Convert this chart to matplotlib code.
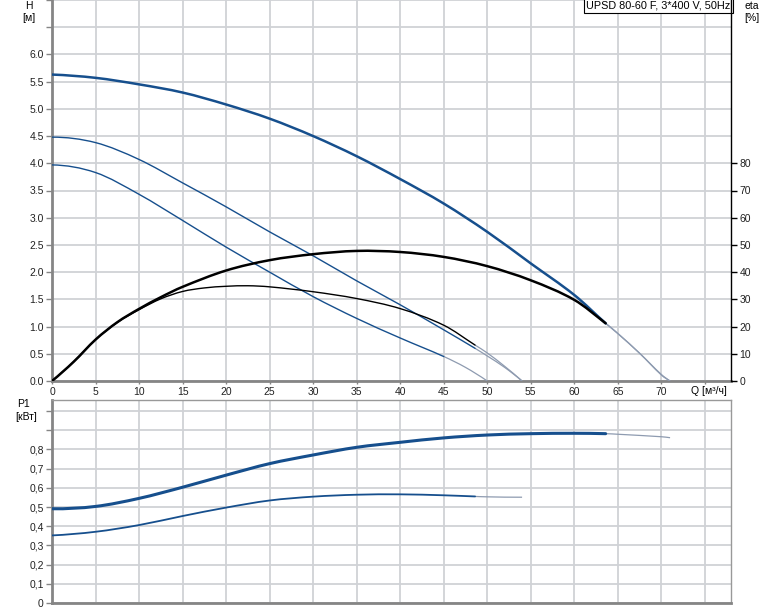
import numpy as np
import matplotlib
matplotlib.use("Agg")
import matplotlib.pyplot as plt
from matplotlib.path import Path
from matplotlib.patches import PathPatch

plt.rcParams['font.family'] = ['Liberation Sans', 'DejaVu Sans']
plt.rcParams['font.size'] = 7.5

# ---- data (Q in m3/h) ----
# head curves [m]
q_h1 = [0, 5, 10, 15, 20, 25, 30, 35, 40, 45, 50, 55, 60, 63.6, 65, 67.5, 70, 71]
h1 = [5.63, 5.57, 5.45, 5.30, 5.08, 4.82, 4.50, 4.13, 3.71, 3.26, 2.74, 2.16, 1.58, 1.06, 0.87, 0.51, 0.12, 0]
q_h2 = [0, 5, 10, 15, 20, 25, 30, 35, 40, 45, 48.6, 50, 52, 54]
h2 = [4.48, 4.38, 4.07, 3.64, 3.20, 2.74, 2.30, 1.84, 1.40, 0.94, 0.60, 0.46, 0.25, 0]
q_h3 = [0, 5, 10, 15, 20, 25, 30, 35, 40, 45, 47.5, 50]
h3 = [3.97, 3.83, 3.43, 2.95, 2.46, 2.00, 1.55, 1.15, 0.79, 0.45, 0.25, 0]

# efficiency curves [%]
q_e1 = [0, 2.5, 5, 7.5, 10, 12.5, 15, 20, 25, 30, 35, 40, 45, 50, 55, 60, 63.6, 65, 67.5, 70, 71]
eta1 = [0, 7.1, 15.2, 21.6, 26.5, 30.8, 34.6, 40.6, 44.4, 46.6, 47.8, 47.4, 45.6, 42.2, 37.0, 29.8, 21.2, 17.5, 10.2, 2.2, 0]
q_e2 = [0, 2.5, 5, 7.5, 10, 12.5, 15, 17.5, 20, 22.5, 25, 30, 35, 40, 45, 48.6, 50, 52, 54]
eta2 = [0, 7.1, 15.2, 21.5, 26.2, 30.2, 32.9, 34.2, 34.8, 35.0, 34.6, 32.8, 30.3, 26.6, 20.5, 13.2, 10.3, 5.4, 0]

# power curves [kW]
q_p1 = [0, 5, 10, 15, 20, 25, 30, 35, 40, 45, 50, 55, 60, 63.6, 65, 70, 71]
p1 = [0.491, 0.503, 0.545, 0.603, 0.666, 0.726, 0.771, 0.811, 0.837, 0.860, 0.875, 0.882, 0.884, 0.882, 0.879, 0.866, 0.861]
q_p2 = [0, 5, 10, 15, 20, 25, 30, 35, 40, 45, 48.6, 50, 54]
p2 = [0.352, 0.371, 0.406, 0.453, 0.497, 0.534, 0.554, 0.564, 0.566, 0.561, 0.555, 0.553, 0.551]

# end of operating range (after it the curve is drawn thin grey)
q_end1 = 63.6
q_end2 = 48.6
q_end3 = 45

title = "UPSD 80-60 F, 3*400 V, 50Hz"

blue = '#164f8d'
grey = '#8e9bb0'
grid_c = '#d0d2d6'
spine_c = '#858585'

W, H = 774, 611
fig = plt.figure(figsize=(W / 100, H / 100), dpi=100)

def fx(px):
    return px / W

def fy(py):
    return 1 - py / H

ax = fig.add_axes([fx(52), fy(381), fx(731) - fx(52), fy(0) - fy(381)])
ax2 = fig.add_axes([fx(52), fy(603), fx(731) - fx(52), fy(399.5) - fy(603)])


def end_slope(q0, q1, q2, v0, v1, v2):
    # three-point one-sided derivative at q0
    h1_, h2_ = q1 - q0, q2 - q0
    return (v1 * h2_ ** 2 - v2 * h1_ ** 2 - v0 * (h2_ ** 2 - h1_ ** 2)) / (h1_ * h2_ * (h2_ - h1_))


def slopes(q, v):
    # tangents used only to draw the line smoothly through the read points
    d = np.zeros_like(v)
    d[1:-1] = (v[2:] - v[:-2]) / (q[2:] - q[:-2])
    d[0] = end_slope(q[0], q[1], q[2], v[0], v[1], v[2])
    d[-1] = end_slope(q[-1], q[-2], q[-3], v[-1], v[-2], v[-3])
    return d


def bezier(q, v, d, i0, i1):
    verts = [(q[i0], v[i0])]
    codes = [Path.MOVETO]
    for i in range(i0, i1):
        h = (q[i + 1] - q[i]) / 3
        verts += [(q[i] + h, v[i] + d[i] * h),
                  (q[i + 1] - h, v[i + 1] - d[i + 1] * h),
                  (q[i + 1], v[i + 1])]
        codes += [Path.CURVE4] * 3
    return Path(verts, codes)


def split_plot(axis, q, v, q_end, color, lw, scale=1.0):
    q = np.asarray(q, float)
    v = np.asarray(v, float) * scale
    d = slopes(q, v)
    i = int(np.searchsorted(q, q_end))
    axis.add_patch(PathPatch(bezier(q, v, d, 0, i), fill=False, ec=color, lw=lw,
                             capstyle='round', zorder=4))
    axis.add_patch(PathPatch(bezier(q, v, d, i, len(q) - 1), fill=False, ec=grey,
                             lw=0.9, zorder=3))


# top chart: head and efficiency (eta drawn on the H scale, 20 % per metre)
split_plot(ax, q_h1, h1, q_end1, blue, 1.8)
split_plot(ax, q_h2, h2, q_end2, blue, 1.0)
split_plot(ax, q_h3, h3, q_end3, blue, 1.0)
split_plot(ax, q_e1, eta1, q_end1, 'black', 1.8, scale=1 / 20)
split_plot(ax, q_e2, eta2, q_end2, 'black', 1.0, scale=1 / 20)

ax.set_xlim(0, 78)
ax.set_ylim(0, 7)
ax.set_xticks(np.arange(0, 76, 5))
ax.set_xticklabels([str(v) for v in range(0, 71, 5)] + [''])
ax.set_yticks(np.arange(0, 7.01, 0.5))
ax.set_yticklabels(['%.1f' % v if v <= 6.0 else '' for v in np.arange(0, 7.01, 0.5)])
ax.grid(True, color=grid_c, lw=1.3)
ax.set_axisbelow(True)
ax.tick_params(axis='both', length=4, width=1, color=spine_c, labelcolor='#222222', pad=2)
ax.tick_params(axis='x', length=2)
ax.spines['top'].set_visible(False)
ax.spines['right'].set_visible(False)
for s in ['left', 'bottom']:
    ax.spines[s].set_color(spine_c)
    ax.spines[s].set_linewidth(2)

axr = ax.twinx()
axr.set_ylim(0, 140)
axr.set_yticks(np.arange(0, 81, 10))
axr.tick_params(axis='y', length=4, width=1, color='black', labelcolor='#222222', pad=2)
for s in ['left', 'top', 'bottom']:
    axr.spines[s].set_visible(False)
axr.spines['right'].set_color('black')
axr.spines['right'].set_linewidth(1)

ax.text(0.9995, 0.999, title, transform=ax.transAxes, ha='right', va='top', zorder=6,
        fontsize=7.8,
        bbox=dict(boxstyle='square,pad=0.25', fc='white', ec='black', lw=0.8))

# bottom chart: power
split_plot(ax2, q_p1, p1, q_end1, blue, 2.2)
split_plot(ax2, q_p2, p2, q_end2, blue, 1.3)
ax2.set_xlim(0, 78)
ax2.set_ylim(0, 1.06)
ax2.set_xticks(np.arange(0, 76, 5))
ax2.set_xticklabels([])
ax2.set_yticks(np.arange(0, 1.01, 0.1))
ax2.set_yticklabels(['0'] + [('%.1f' % v).replace('.', ',') for v in np.arange(0.1, 0.81, 0.1)] + ['', ''])
ax2.grid(True, color=grid_c, lw=1.3)
ax2.set_axisbelow(True)
ax2.tick_params(axis='y', length=4, width=1, color=spine_c, labelcolor='#222222', pad=2)
ax2.tick_params(axis='x', length=0)
for s in ['left', 'bottom']:
    ax2.spines[s].set_color(spine_c)
    ax2.spines[s].set_linewidth(2)
for s in ['top', 'right']:
    ax2.spines[s].set_color('#999999')
    ax2.spines[s].set_linewidth(1)

# axis labels
fig.text(fx(29), fy(6), "H", ha='center', va='center')
fig.text(fx(29), fy(18), "[м]", ha='center', va='center')
fig.text(fx(752), fy(6), "eta", ha='center', va='center')
fig.text(fx(752), fy(18), "[%]", ha='center', va='center')
fig.text(fx(24), fy(404), "P1", ha='center', va='center')
fig.text(fx(26), fy(417), "[кВт]", ha='center', va='center')
fig.text(fx(709), fy(391), "Q [м³/ч]", ha='center', va='center')

fig.savefig("out.png", dpi=100)
